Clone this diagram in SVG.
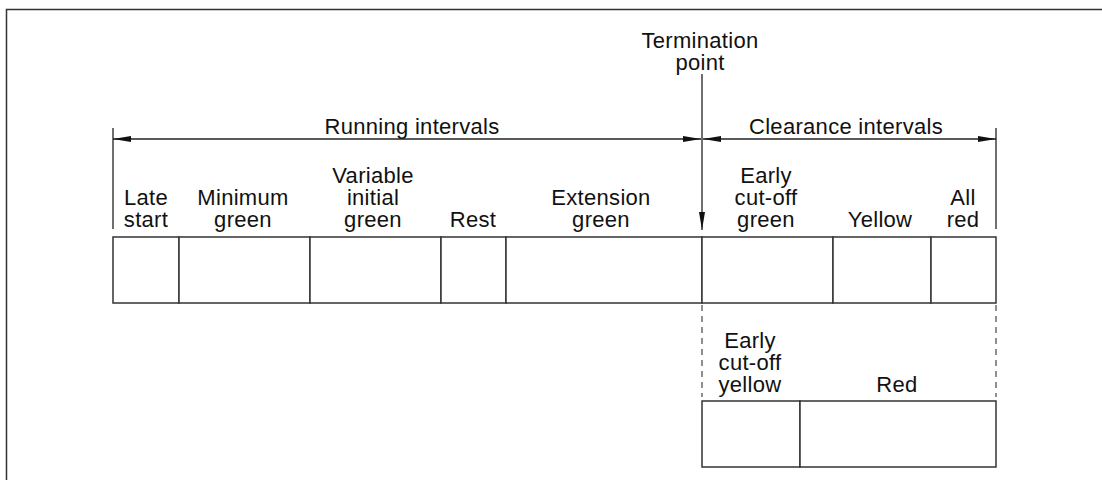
<svg xmlns="http://www.w3.org/2000/svg" width="1102" height="480" viewBox="0 0 1102 480">
<style>
.b{fill:#fff;stroke:#333;stroke-width:1.5}
.l{stroke:#222;stroke-width:1.3;fill:none}
.d{stroke:#555;stroke-width:1.3;stroke-dasharray:6,5;fill:none}
text{font-family:"Liberation Sans",Arial,sans-serif;font-size:22px;letter-spacing:0.3px;fill:#111;text-anchor:middle}
</style>
<defs>
<marker id="ah" viewBox="0 0 18 6" refX="18" refY="3" markerWidth="18" markerHeight="6" markerUnits="userSpaceOnUse" orient="auto-start-reverse">
<path d="M0,0 L18,3 L0,6 Z" fill="#111"/>
</marker>
</defs>
<rect x="6.5" y="9.5" width="1100" height="480" fill="none" stroke="#333" stroke-width="1.5"/>
<g id="termination">
<text x="700" y="48">Termination</text>
<text x="700" y="70">point</text>
</g>
<g id="connectors">
<line class="l" x1="113" y1="128" x2="113" y2="229"/>
<line class="l" x1="996" y1="128" x2="996" y2="229"/>
<line class="l" x1="113" y1="139" x2="701" y2="139" marker-start="url(#ah)" marker-end="url(#ah)"/>
<line class="l" x1="703" y1="139" x2="996" y2="139" marker-start="url(#ah)" marker-end="url(#ah)"/>
<line class="l" x1="702" y1="74" x2="702" y2="230" marker-end="url(#ah)"/>
<line class="d" x1="702" y1="305" x2="702" y2="397"/>
<line class="d" x1="996" y1="305" x2="996" y2="397"/>
</g>
<g id="running-label"><text x="412" y="134">Running intervals</text></g>
<g id="clearance-label"><text x="846" y="134">Clearance intervals</text></g>
<g id="late-start">
<rect class="b" x="113" y="237" width="66" height="66"/>
<text x="146" y="205">Late</text><text x="146" y="227">start</text>
</g>
<g id="minimum-green">
<rect class="b" x="179" y="237" width="131" height="66"/>
<text x="243" y="205">Minimum</text><text x="243" y="227">green</text>
</g>
<g id="variable-initial-green">
<rect class="b" x="310" y="237" width="131" height="66"/>
<text x="373" y="183">Variable</text><text x="373" y="205">initial</text><text x="373" y="227">green</text>
</g>
<g id="rest">
<rect class="b" x="441" y="237" width="65" height="66"/>
<text x="473" y="227">Rest</text>
</g>
<g id="extension-green">
<rect class="b" x="506" y="237" width="196" height="66"/>
<text x="601" y="205">Extension</text><text x="601" y="227">green</text>
</g>
<g id="early-cutoff-green">
<rect class="b" x="702" y="237" width="131" height="66"/>
<text x="766" y="183">Early</text><text x="766" y="205">cut-off</text><text x="766" y="227">green</text>
</g>
<g id="yellow">
<rect class="b" x="833" y="237" width="98" height="66"/>
<text x="880" y="227">Yellow</text>
</g>
<g id="all-red">
<rect class="b" x="931" y="237" width="65" height="66"/>
<text x="963" y="205">All</text><text x="963" y="227">red</text>
</g>
<g id="early-cutoff-yellow">
<rect class="b" x="702" y="401" width="98" height="66"/>
<text x="750" y="348">Early</text><text x="750" y="370">cut-off</text><text x="750" y="392">yellow</text>
</g>
<g id="red">
<rect class="b" x="800" y="401" width="196" height="66"/>
<text x="897" y="392">Red</text>
</g>
</svg>
